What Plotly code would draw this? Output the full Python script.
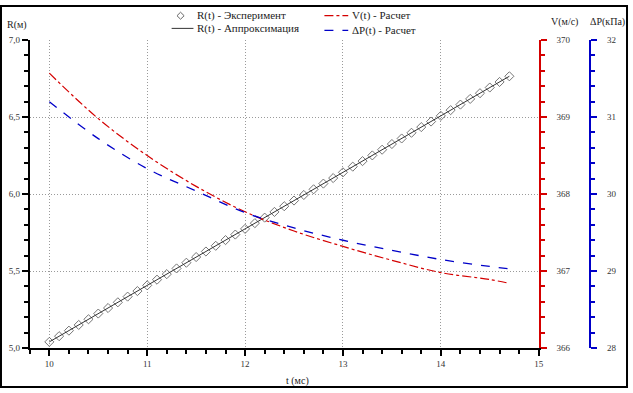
import plotly.graph_objects as go

# ---------------- data ----------------
t_exp = [10.0, 10.1, 10.2, 10.3, 10.4, 10.5, 10.6, 10.7, 10.8, 10.9,
         11.0, 11.1, 11.2, 11.3, 11.4, 11.5, 11.6, 11.7, 11.8, 11.9,
         12.0, 12.1, 12.2, 12.3, 12.4, 12.5, 12.6, 12.7, 12.8, 12.9,
         13.0, 13.1, 13.2, 13.3, 13.4, 13.5, 13.6, 13.7, 13.8, 13.9,
         14.0, 14.1, 14.2, 14.3, 14.4, 14.5, 14.6, 14.7]
R_exp = [5.040, 5.077, 5.113, 5.150, 5.187, 5.224, 5.260, 5.297, 5.334, 5.370,
         5.407, 5.444, 5.480, 5.517, 5.554, 5.591, 5.627, 5.664, 5.701, 5.737,
         5.774, 5.811, 5.847, 5.884, 5.921, 5.958, 5.994, 6.031, 6.068, 6.104,
         6.141, 6.178, 6.214, 6.251, 6.288, 6.325, 6.361, 6.398, 6.435, 6.471,
         6.508, 6.545, 6.581, 6.618, 6.655, 6.692, 6.728, 6.765]

t_fit = [10.0, 14.7]
R_fit = [5.040, 6.765]

t_calc = [10.0, 10.5, 11.0, 11.5, 12.0, 12.5, 13.0, 13.5, 14.0, 14.5, 14.7]
V_calc = [369.57, 368.98, 368.50, 368.10, 367.77, 367.52, 367.32, 367.14, 366.98, 366.89, 366.84]
dP_calc = [31.20, 30.72, 30.33, 30.04, 29.76, 29.56, 29.40, 29.27, 29.15, 29.06, 29.03]

x_ticks = [10, 11, 12, 13, 14, 15]

names = ["R(t) - Эксперимент", "R(t) - Аппроксимация", "V(t) - Расчет", "ΔP(t) - Расчет"]
axis_titles = ["R(м)", "V(м/с)", "ΔP(кПа)", "t (мс)"]

W, H = 633, 393
FONT = "Liberation Serif"
RED = "#d40000"
BLUE = "#0000c8"
GRAY = "#666666"
TXT = "#222222"
GRID = "#9a9a9a"


def px(x):
    return x / W


def py(y):
    return 1 - y / H


fig = go.Figure()

fig.add_trace(go.Scatter(
    x=t_exp, y=R_exp, mode="markers", name=names[0],
    marker=dict(symbol="diamond-open", size=7, color=GRAY, line=dict(width=0.9, color=GRAY)),
    yaxis="y"))
fig.add_trace(go.Scatter(
    x=t_fit, y=R_fit, mode="lines", name=names[1],
    line=dict(color="#333333", width=1), yaxis="y"))
fig.add_trace(go.Scatter(
    x=t_calc, y=V_calc, mode="lines", name=names[2],
    line=dict(color=RED, width=1.2, dash="dashdot", shape="spline"), yaxis="y2"))
fig.add_trace(go.Scatter(
    x=t_calc, y=dP_calc, mode="lines", name=names[3],
    line=dict(color=BLUE, width=1.3, dash="dash", shape="spline"), yaxis="y3"))

tickfont = dict(family=FONT, size=9, color="#333333")

# manual legend (two columns)
leg_text = [(197, 11, names[0]), (197, 24, names[1]), (353, 11, names[2]), (353, 26, names[3])]
annotations = [
    dict(text=s, x=px(x), y=py(y), xref="paper", yref="paper", xanchor="left", yanchor="middle",
         showarrow=False, font=dict(family=FONT, size=11, color=TXT))
    for x, y, s in leg_text
]
title_pos = [(17, 21), (569, 17), (612, 17), (300, 386)]
annotations += [
    dict(text=s, x=px(x), y=py(y), xref="paper", yref="paper", xanchor="center", yanchor="middle",
         showarrow=False, font=dict(family=FONT, size=10, color=TXT))
    for s, (x, y) in zip(axis_titles, title_pos)
]

dcx, dcy, dr = 182, 11, 3.6
shapes = [
    dict(type="rect", xref="paper", yref="paper", x0=px(1), x1=px(632),
         y0=py(392), y1=py(1), line=dict(color="black", width=2), layer="below"),
    dict(type="path", xref="paper", yref="paper",
         path=f"M {px(dcx)},{py(dcy - dr)} L {px(dcx + dr)},{py(dcy)} L {px(dcx)},{py(dcy + dr)} L {px(dcx - dr)},{py(dcy)} Z",
         line=dict(color=GRAY, width=1)),
    dict(type="line", xref="paper", yref="paper", x0=px(173), x1=px(195), y0=py(24), y1=py(24),
         line=dict(color="#333333", width=1)),
    dict(type="line", xref="paper", yref="paper", x0=px(327), x1=px(351), y0=py(11), y1=py(11),
         line=dict(color=RED, width=1.2, dash="dashdot")),
    dict(type="line", xref="paper", yref="paper", x0=px(327), x1=px(351), y0=py(26), y1=py(26),
         line=dict(color=BLUE, width=1.3, dash="dash")),
]

fig.update_layout(
    width=W, height=H,
    margin=dict(l=0, r=0, t=0, b=0),
    paper_bgcolor="white", plot_bgcolor="white",
    separators=", ",
    font=dict(family=FONT, size=10, color=TXT),
    showlegend=False,
    xaxis=dict(
        domain=[px(30), px(543)], range=[9.8, 15], tickvals=x_ticks,
        ticks="outside", ticklen=6, tickwidth=2, tickcolor="black",
        showline=True, linecolor="black", linewidth=2,
        showgrid=True, gridcolor=GRID, griddash="1px,2px", gridwidth=1,
        minor=dict(dtick=0.2, ticks="outside", ticklen=4, tickwidth=2, tickcolor="black", showgrid=False),
        tickfont=tickfont, zeroline=False, anchor="y",
    ),
    yaxis=dict(
        domain=[py(352), py(36)], range=[5, 7], dtick=0.5, tickformat=".1f",
        ticks="outside", ticklen=6, tickwidth=2, tickcolor="black",
        showline=True, linecolor="black", linewidth=2,
        showgrid=True, gridcolor=GRID, griddash="1px,2px", gridwidth=1,
        minor=dict(dtick=0.1, ticks="outside", ticklen=4, tickwidth=2, tickcolor="black", showgrid=False),
        tickfont=tickfont, zeroline=False, anchor="x",
    ),
    yaxis2=dict(
        overlaying="y", side="right", anchor="x", range=[366, 370], dtick=1,
        ticks="outside", ticklen=6, tickwidth=2, tickcolor=RED,
        showline=True, linecolor=RED, linewidth=2, showgrid=False,
        minor=dict(dtick=0.2, ticks="outside", ticklen=4, tickwidth=2, tickcolor=RED),
        tickfont=tickfont, zeroline=False, ticklabelstandoff=8,
    ),
    yaxis3=dict(
        overlaying="y", side="right", anchor="free", position=px(595),
        range=[28, 32], dtick=1,
        ticks="outside", ticklen=6, tickwidth=2, tickcolor=BLUE,
        showline=True, linecolor=BLUE, linewidth=2, showgrid=False,
        minor=dict(dtick=0.2, ticks="outside", ticklen=4, tickwidth=2, tickcolor=BLUE),
        tickfont=tickfont, zeroline=False, ticklabelstandoff=8,
    ),
    annotations=annotations,
    shapes=shapes,
)

fig.write_html("out.html", config={"displayModeBar": False},
               post_script="document.body.style.margin='0';")
